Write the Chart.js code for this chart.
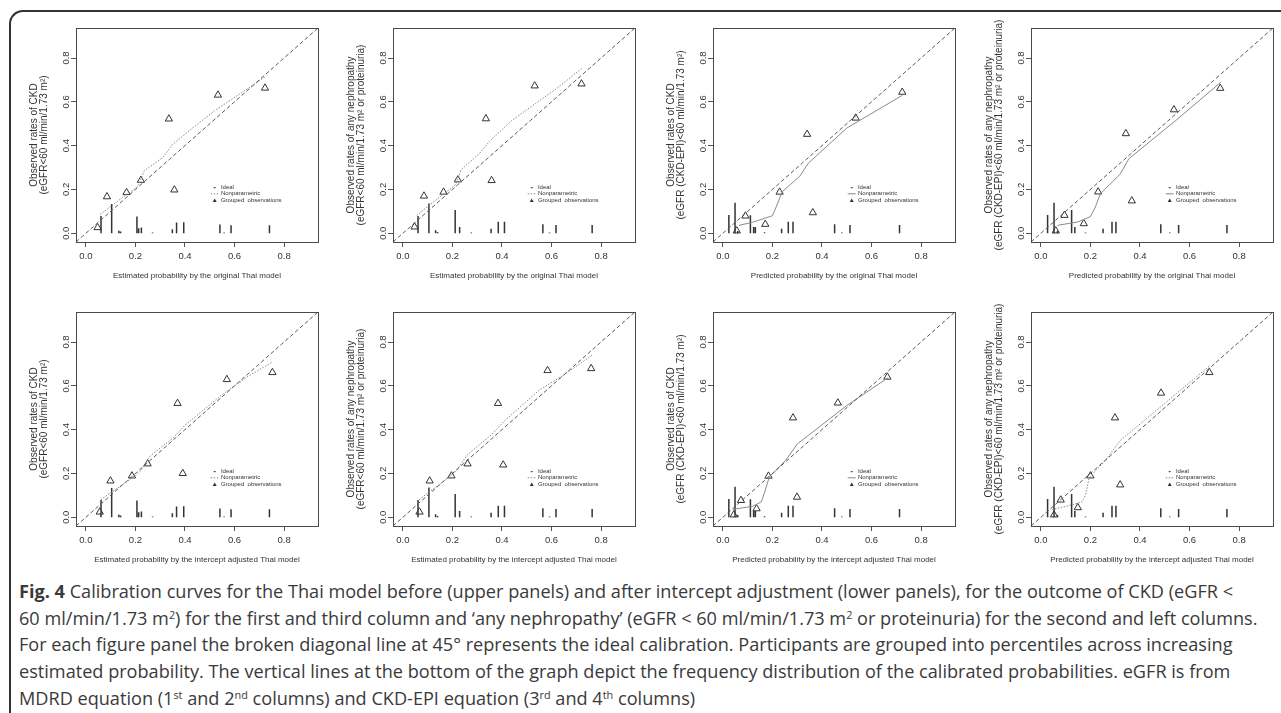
<!DOCTYPE html>
<html>
<head>
<meta charset="utf-8">
<title>Fig. 4 Calibration curves for the Thai model</title>
<script src="https://cdn.jsdelivr.net/npm/chart.js@4.4.1/dist/chart.umd.min.js"></script>
<style>
  html, body { margin: 0; padding: 0; background: #fff; }
  body { width: 1281px; height: 713px; position: relative; overflow: hidden; }
  .frame {
    position: absolute; left: 9px; top: 10px; width: 1400px; height: 800px;
    border-left: 2px solid #333; border-top: 2px solid #333;
    border-top-left-radius: 14px;
  }
  canvas.panel { position: absolute; }
  #caption {
    position: absolute; left: 19px; top: 578px;
    font-family: 'Open Sans', sans-serif; font-size: 18px; line-height: 26.7px;
    color: #3a3a3a; white-space: nowrap; transform-origin: 0 0;
  }
  #caption sup { font-size: 60%; line-height: 0; vertical-align: 0.55em; }
</style>
</head>
<body>
<div class="frame"></div>
<div id="caption">
  <div id="capLine1"><b>Fig. 4</b> Calibration curves for the Thai model before (upper panels) and after intercept adjustment (lower panels), for the outcome of CKD (eGFR &lt;</div>
  <div>60 ml/min/1.73 m<sup>2</sup>) for the first and third column and ‘any nephropathy’ (eGFR &lt; 60 ml/min/1.73 m<sup>2</sup> or proteinuria) for the second and left columns.</div>
  <div>For each figure panel the broken diagonal line at 45° represents the ideal calibration. Participants are grouped into percentiles across increasing</div>
  <div>estimated probability. The vertical lines at the bottom of the graph depict the frequency distribution of the calibrated probabilities. eGFR is from</div>
  <div>MDRD equation (1<sup>st</sup> and 2<sup>nd</sup> columns) and CKD-EPI equation (3<sup>rd</sup> and 4<sup>th</sup> columns)</div>
</div>
<script>
// Ejes comunes (mismo rango en x e y, como en R)
const axisRange = [-0.04, 0.937];
const tickValues = [0, 0.2, 0.4, 0.6, 0.8];
const tickLabels = ['0.0', '0.2', '0.4', '0.6', '0.8'];

// Titulos de ejes
const xTitleEstOrig = 'Estimated probability by the original Thai model';
const xTitlePredOrig = 'Predicted probability by the original Thai model';
const xTitleEstAdj = 'Estimated probability by the intercept adjusted Thai model';
const xTitlePredAdj = 'Predicted probability by the intercept adjusted Thai model';
const yTitleCkd = ['Observed rates of CKD', '(eGFR<60 ml/min/1.73 m²)'];
const yTitleNeph = ['Observed rates of any nephropathy', '(eGFR<60 ml/min/1.73 m² or proteinuria)'];
const yTitleCkdEpi = ['Observed rates of CKD', '(eGFR (CKD-EPI)<60 ml/min/1.73 m²)'];
const yTitleNephEpi = ['Observed rates of any nephropathy', '(eGFR (CKD-EPI)<60 ml/min/1.73 m² or proteinuria)'];

// Leyenda interna
const legendLabels = ['Ideal', 'Nonparametric', 'Grouped  observations'];
const legendRowY = [0.208, 0.18, 0.15];

// Distribucion de probabilidades (lineas verticales) por columna
const spikeXCol1 = [0.061, 0.104, 0.133, 0.140, 0.206, 0.213, 0.224, 0.269, 0.349, 0.366, 0.395, 0.541, 0.558, 0.586, 0.741];
const spikeHCol1 = [0.079, 0.134, 0.011, 0.008, 0.076, 0.023, 0.026, 0.003, 0.018, 0.049, 0.050, 0.040, 0.003, 0.037, 0.037];
const spikeXCol2 = [0.061, 0.105, 0.132, 0.140, 0.211, 0.229, 0.276, 0.356, 0.385, 0.410, 0.565, 0.592, 0.618, 0.764];
const spikeHCol2 = [0.079, 0.136, 0.014, 0.006, 0.106, 0.029, 0.003, 0.021, 0.052, 0.052, 0.041, 0.003, 0.038, 0.038];
const spikeXCol3 = [0.024, 0.049, 0.060, 0.111, 0.124, 0.131, 0.168, 0.237, 0.264, 0.283, 0.451, 0.480, 0.513, 0.713];
const spikeHCol3 = [0.083, 0.139, 0.010, 0.082, 0.029, 0.029, 0.004, 0.021, 0.052, 0.052, 0.041, 0.003, 0.038, 0.038];
const spikeXCol4 = [0.027, 0.053, 0.067, 0.124, 0.137, 0.180, 0.251, 0.287, 0.303, 0.484, 0.520, 0.556, 0.751];
const spikeHCol4 = [0.083, 0.139, 0.010, 0.106, 0.029, 0.003, 0.021, 0.052, 0.052, 0.041, 0.003, 0.038, 0.038];

// Observaciones agrupadas (triangulos)
const groupX1 = [0.047, 0.085, 0.164, 0.222, 0.335, 0.357, 0.533, 0.723];
const groupY1 = [0.026, 0.167, 0.186, 0.242, 0.522, 0.198, 0.631, 0.663];
const groupX2 = [0.047, 0.085, 0.164, 0.222, 0.335, 0.358, 0.532, 0.721];
const groupY2 = [0.029, 0.170, 0.188, 0.244, 0.523, 0.241, 0.673, 0.682];
const groupX3 = [0.056, 0.091, 0.171, 0.229, 0.340, 0.363, 0.536, 0.724];
const groupY3 = [0.011, 0.079, 0.041, 0.188, 0.452, 0.094, 0.526, 0.644];
const groupX4 = [0.060, 0.095, 0.173, 0.231, 0.343, 0.367, 0.537, 0.724];
const groupY4 = [0.011, 0.082, 0.044, 0.189, 0.455, 0.148, 0.564, 0.662];
const groupX5 = [0.056, 0.099, 0.186, 0.249, 0.370, 0.391, 0.569, 0.753];
const groupY5 = [0.024, 0.166, 0.189, 0.244, 0.520, 0.200, 0.629, 0.661];
const groupX6 = [0.067, 0.108, 0.196, 0.261, 0.384, 0.405, 0.584, 0.760];
const groupY6 = [0.024, 0.166, 0.189, 0.244, 0.520, 0.239, 0.670, 0.679];
const groupX7 = [0.044, 0.073, 0.136, 0.184, 0.283, 0.299, 0.464, 0.664];
const groupY7 = [0.011, 0.077, 0.039, 0.188, 0.454, 0.092, 0.522, 0.640];
const groupX8 = [0.053, 0.080, 0.149, 0.200, 0.299, 0.320, 0.485, 0.680];
const groupY8 = [0.011, 0.079, 0.044, 0.189, 0.454, 0.148, 0.567, 0.661];

// Curvas no parametricas
const curveX1 = [0.057, 0.12, 0.20, 0.215, 0.235, 0.31, 0.35, 0.43, 0.52, 0.62, 0.725];
const curveY1 = [0.085, 0.14, 0.205, 0.225, 0.285, 0.345, 0.405, 0.48, 0.56, 0.635, 0.715];
const curveX2 = [0.056, 0.12, 0.195, 0.215, 0.235, 0.31, 0.35, 0.44, 0.52, 0.62, 0.725];
const curveY2 = [0.082, 0.14, 0.205, 0.225, 0.29, 0.365, 0.42, 0.515, 0.58, 0.66, 0.755];
const curveX3 = [0.065, 0.12, 0.20, 0.215, 0.24, 0.31, 0.345, 0.50, 0.725];
const curveY3 = [0.036, 0.05, 0.08, 0.12, 0.19, 0.26, 0.32, 0.48, 0.63];
const curveX4 = [0.067, 0.15, 0.20, 0.22, 0.24, 0.32, 0.355, 0.55, 0.727];
const curveY4 = [0.036, 0.052, 0.076, 0.12, 0.18, 0.27, 0.34, 0.52, 0.69];
const curveX5 = [0.06, 0.20, 0.22, 0.26, 0.35, 0.40, 0.55, 0.65, 0.755];
const curveY5 = [0.08, 0.19, 0.21, 0.28, 0.36, 0.42, 0.56, 0.64, 0.71];
const curveX6 = [0.065, 0.20, 0.22, 0.26, 0.36, 0.41, 0.55, 0.65, 0.765];
const curveY6 = [0.08, 0.195, 0.22, 0.285, 0.38, 0.44, 0.58, 0.65, 0.74];
const curveX7 = [0.04, 0.12, 0.155, 0.17, 0.187, 0.253, 0.30, 0.50, 0.667];
const curveY7 = [0.036, 0.05, 0.07, 0.12, 0.183, 0.259, 0.334, 0.51, 0.637];
const curveX8 = [0.045, 0.12, 0.165, 0.18, 0.195, 0.26, 0.32, 0.50, 0.68];
const curveY8 = [0.035, 0.055, 0.07, 0.10, 0.18, 0.26, 0.35, 0.52, 0.69];

// Geometria de los paneles (pixeles)
const BOX_LEFT = [76, 393, 713, 1031];
const BOX_TOP = [28, 312];
const BOX_W = 242;
const BOX_H = 214;
const PAD = 10;
const Y_AXIS_W = 52;
const X_AXIS_H = 45;
const FONT = "'Liberation Sans', Arial, sans-serif";
const DOTTED = [1.5, 1.5];
const SOLID = [];

const panels = [
  { col: 0, row: 0, xTitle: xTitleEstOrig, yTitle: yTitleCkd, gx: groupX1, gy: groupY1, cx: curveX1, cy: curveY1, sx: spikeXCol1, sh: spikeHCol1, dash: DOTTED },
  { col: 1, row: 0, xTitle: xTitleEstOrig, yTitle: yTitleNeph, gx: groupX2, gy: groupY2, cx: curveX2, cy: curveY2, sx: spikeXCol2, sh: spikeHCol2, dash: DOTTED },
  { col: 2, row: 0, xTitle: xTitlePredOrig, yTitle: yTitleCkdEpi, gx: groupX3, gy: groupY3, cx: curveX3, cy: curveY3, sx: spikeXCol3, sh: spikeHCol3, dash: SOLID },
  { col: 3, row: 0, xTitle: xTitlePredOrig, yTitle: yTitleNephEpi, gx: groupX4, gy: groupY4, cx: curveX4, cy: curveY4, sx: spikeXCol4, sh: spikeHCol4, dash: SOLID },
  { col: 0, row: 1, xTitle: xTitleEstAdj, yTitle: yTitleCkd, gx: groupX5, gy: groupY5, cx: curveX5, cy: curveY5, sx: spikeXCol1, sh: spikeHCol1, dash: DOTTED },
  { col: 1, row: 1, xTitle: xTitleEstAdj, yTitle: yTitleNeph, gx: groupX6, gy: groupY6, cx: curveX6, cy: curveY6, sx: spikeXCol2, sh: spikeHCol2, dash: DOTTED },
  { col: 2, row: 1, xTitle: xTitlePredAdj, yTitle: yTitleCkdEpi, gx: groupX7, gy: groupY7, cx: curveX7, cy: curveY7, sx: spikeXCol3, sh: spikeHCol3, dash: SOLID },
  { col: 3, row: 1, xTitle: xTitlePredAdj, yTitle: yTitleNephEpi, gx: groupX8, gy: groupY8, cx: curveX8, cy: curveY8, sx: spikeXCol4, sh: spikeHCol4, dash: DOTTED }
];

/**
 * Caja del grafico y leyenda interna (estilo R)
 */
const panelDecor = {
  id: 'panelDecor',
  afterDatasetsDraw(chart, args, opts) {
    const { ctx, chartArea: a, scales: { x, y } } = chart;
    ctx.save();
    ctx.strokeStyle = '#4a4a4a';
    ctx.lineWidth = 1;
    ctx.strokeRect(a.left + 0.5, a.top + 0.5, a.right - a.left, a.bottom - a.top);

    const sx = x.getPixelForValue(0.52);
    const tx = x.getPixelForValue(0.545);
    ctx.font = '6px ' + FONT;
    ctx.fillStyle = '#333';
    ctx.textBaseline = 'middle';
    ctx.textAlign = 'left';
    legendLabels.forEach((label, i) => {
      const py = y.getPixelForValue(legendRowY[i]);
      ctx.fillText(label, tx, py);
      if (i === 0) {
        ctx.strokeStyle = '#333';
        ctx.setLineDash([]);
        ctx.beginPath(); ctx.moveTo(sx - 1, py); ctx.lineTo(sx + 1, py); ctx.stroke();
      } else if (i === 1) {
        ctx.strokeStyle = '#888';
        ctx.setLineDash(opts.dash);
        ctx.beginPath(); ctx.moveTo(sx - 4, py); ctx.lineTo(sx + 4, py); ctx.stroke();
        ctx.setLineDash([]);
      } else {
        ctx.fillStyle = '#333';
        ctx.beginPath(); ctx.moveTo(sx, py - 2); ctx.lineTo(sx + 2, py + 1.5); ctx.lineTo(sx - 2, py + 1.5); ctx.closePath(); ctx.fill();
      }
    });
    ctx.restore();
  }
};

/**
 * Convierte pares x/y en puntos para Chart.js
 */
function toPoints(xs, ys) {
  return xs.map((v, i) => ({ x: v, y: ys[i] }));
}

/**
 * Lineas verticales desde 0 hasta la altura, separadas por huecos
 */
function spikePoints(xs, hs) {
  const pts = [];
  xs.forEach((v, i) => {
    pts.push({ x: v, y: 0 }, { x: v, y: hs[i] }, { x: v, y: null });
  });
  return pts;
}

function axisOptions(isY, title) {
  return {
    type: 'linear',
    min: axisRange[0],
    max: axisRange[1],
    afterBuildTicks: (s) => { s.ticks = tickValues.map(v => ({ value: v })); },
    afterFit: (s) => { if (isY) s.width = Y_AXIS_W; else s.height = X_AXIS_H; },
    ticks: isY
      ? { autoSkip: false, minRotation: 90, maxRotation: 90, crossAlign: 'center', padding: -2.2, color: '#333', font: { family: FONT, size: 9.5 }, callback: (v, i) => tickLabels[i] }
      : { autoSkip: false, maxRotation: 0, padding: 3.8, color: '#333', font: { family: FONT, size: 9.5 }, callback: (v, i) => tickLabels[i] },
    grid: { drawOnChartArea: false, drawTicks: true, tickLength: 5, color: '#555', lineWidth: 1 },
    border: { display: false },
    title: isY
      ? { display: true, text: title, color: '#333', font: { family: FONT, size: 10, lineHeight: 1.05 }, padding: { top: 4.75, bottom: 0 } }
      : { display: true, text: title, color: '#333', font: { family: FONT, size: 8, lineHeight: 1.2 }, padding: { top: 0, bottom: 6.2 } }
  };
}

/**
 * Crea un panel de calibracion
 */
function createPanel(p) {
  const canvas = document.createElement('canvas');
  const w = PAD + Y_AXIS_W + BOX_W + PAD;
  const h = PAD + BOX_H + X_AXIS_H + PAD;
  canvas.className = 'panel';
  canvas.width = w;
  canvas.height = h;
  canvas.style.width = w + 'px';
  canvas.style.height = h + 'px';
  canvas.style.left = (BOX_LEFT[p.col] - Y_AXIS_W - PAD) + 'px';
  canvas.style.top = (BOX_TOP[p.row] - PAD) + 'px';
  document.body.appendChild(canvas);

  return new Chart(canvas.getContext('2d'), {
    type: 'scatter',
    data: {
      datasets: [
        {
          label: 'Ideal',
          data: toPoints(axisRange, axisRange),
          showLine: true, pointRadius: 0,
          borderColor: '#5a5a5a', borderWidth: 1, borderDash: [4, 2.5]
        },
        {
          label: 'Nonparametric',
          data: toPoints(p.cx, p.cy),
          showLine: true, pointRadius: 0,
          borderColor: '#8a8a8a', borderWidth: 1, borderDash: p.dash
        },
        {
          label: 'Grouped observations',
          data: toPoints(p.gx, p.gy),
          showLine: false, pointStyle: 'triangle', pointRadius: 4.2,
          borderColor: '#333', borderWidth: 1, backgroundColor: 'rgba(0,0,0,0)'
        },
        {
          label: 'Distribution',
          data: spikePoints(p.sx, p.sh),
          showLine: true, spanGaps: false, pointRadius: 0,
          borderColor: '#333', borderWidth: 1.5, borderCapStyle: 'butt'
        }
      ]
    },
    options: {
      responsive: false,
      animation: false,
      devicePixelRatio: 1,
      events: [],
      layout: { padding: PAD },
      plugins: {
        legend: { display: false },
        tooltip: { enabled: false },
        panelDecor: { dash: p.dash }
      },
      scales: {
        x: axisOptions(false, p.xTitle),
        y: axisOptions(true, p.yTitle)
      }
    },
    plugins: [panelDecor]
  });
}

/**
 * Ajusta el ancho del pie de figura al de la imagen original
 */
function fitCaption() {
  const cap = document.getElementById('caption');
  const line1 = document.getElementById('capLine1');
  cap.style.transform = 'none';
  const w = line1.getBoundingClientRect().width;
  const range = document.createRange();
  range.selectNodeContents(line1);
  const textW = range.getBoundingClientRect().width || w;
  cap.style.transform = 'scaleX(' + (1214 / textW) + ')';
}

document.addEventListener('DOMContentLoaded', function() {
  panels.forEach(createPanel);
  fitCaption();
  if (document.fonts && document.fonts.ready) document.fonts.ready.then(fitCaption);
});
</script>
</body>
</html>
